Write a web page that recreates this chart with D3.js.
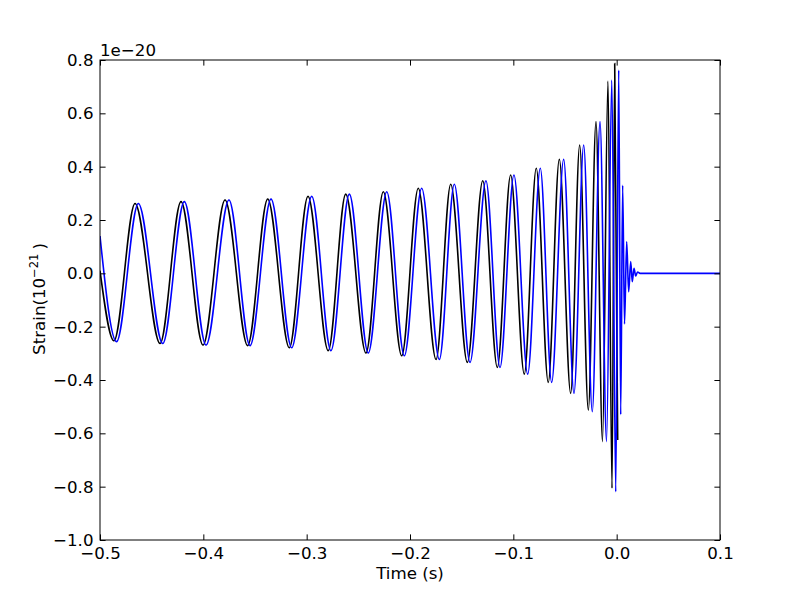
<!DOCTYPE html>
<html>
<head>
<meta charset="utf-8">
<script src="https://cdn.jsdelivr.net/npm/d3@7"></script>
<style>
  html, body { margin: 0; padding: 0; background: #fff; }
  text { font-family: "DejaVu Sans", sans-serif; }
</style>
</head>
<body>
<svg id="chart" width="800" height="600"></svg>
<script>
// Extrema: time (s) and strain (units of 1e-20)
const blackT = [-0.5, -0.4865, -0.4661, -0.4419, -0.4216, -0.4003, -0.3790, -0.3571, -0.3377, -0.3168,
  -0.2987, -0.2791, -0.2622, -0.2426, -0.2258, -0.2080, -0.1920, -0.1748, -0.1606, -0.1445,
  -0.1296, -0.1155, -0.1026, -0.0894, -0.0778, -0.0662, -0.0555, -0.0445, -0.0358, -0.0274,
  -0.0200, -0.0137, -0.0084, -0.0045, -0.0019, 0.0010];
const blackV = [0.01, -0.253, 0.262, -0.263, 0.269, -0.269, 0.275, -0.271, 0.279, -0.279,
  0.289, -0.290, 0.297, -0.299, 0.306, -0.309, 0.319, -0.323, 0.334, -0.334,
  0.347, -0.353, 0.369, -0.378, 0.394, -0.409, 0.428, -0.450, 0.481, -0.513,
  0.569, -0.631, 0.721, -0.806, 0.787, -0.625];

const blueT = [-0.5, -0.4840, -0.4629, -0.4393, -0.4184, -0.3974, -0.3752, -0.3548, -0.3345, -0.3145,
  -0.2951, -0.2765, -0.2587, -0.2404, -0.2225, -0.2055, -0.1887, -0.1716, -0.1571, -0.1419,
  -0.1265, -0.1129, -0.0994, -0.0861, -0.0739, -0.0629, -0.0513, -0.0413, -0.0319, -0.0236,
  -0.0161, -0.0098, -0.0047, -0.0009, 0.0020, 0.0039, 0.0058, 0.0076, 0.0097, 0.0116,
  0.0136, 0.0151, 0.0168, 0.0184, 0.0202, 0.0226, 0.1];
const blueV = [0.14, -0.256, 0.262, -0.263, 0.269, -0.269, 0.275, -0.271, 0.279, -0.279,
  0.289, -0.290, 0.297, -0.299, 0.306, -0.309, 0.319, -0.323, 0.334, -0.334,
  0.347, -0.353, 0.369, -0.378, 0.394, -0.409, 0.428, -0.450, 0.481, -0.519,
  0.569, -0.631, 0.725, -0.819, 0.762, -0.530, 0.330, -0.190, 0.119, -0.069,
  0.044, -0.031, 0.019, -0.010, 0.005, 0.0, 0.0];

const xTicks = [-0.5, -0.4, -0.3, -0.2, -0.1, 0.0, 0.1];
const yTicks = [-1.0, -0.8, -0.6, -0.4, -0.2, 0.0, 0.2, 0.4, 0.6, 0.8];
const xLabel = "Time (s)";
const offsetLabel = "1e\u221220";

const W = 800, H = 600;
const m = { left: 100, right: 80, top: 60, bottom: 60 };
const svg = d3.select("#chart");
const x = d3.scaleLinear().domain([-0.5, 0.1]).range([m.left, W - m.right]);
const y = d3.scaleLinear().domain([-1.0, 0.8]).range([H - m.bottom, m.top]);
const fmt = d3.format(".1f");
const fs = "16.67px";
const tickLen = 5.6;

const plot = svg.append("g");
plot.append("defs").append("clipPath").attr("id", "clip")
  .append("rect").attr("x", m.left).attr("y", m.top)
  .attr("width", W - m.left - m.right).attr("height", H - m.top - m.bottom);

const line = d3.line().x(d => x(d[0])).y(d => y(d[1])).curve(d3.curveMonotoneX);
const black = blackT.map((t, i) => [t, blackV[i]]);
const blue = blueT.map((t, i) => [t, blueV[i]]);

const g = plot.append("g").attr("clip-path", "url(#clip)");
g.append("path").attr("d", line(black)).attr("fill", "none").attr("stroke", "#000").attr("stroke-width", 1.6);
g.append("path").attr("d", line(blue)).attr("fill", "none").attr("stroke", "#0000ff").attr("stroke-width", 1.6);

// Axes: inward ticks on all four sides
const axB = d3.axisBottom(x).tickValues(xTicks).tickFormat(fmt).tickSizeInner(-tickLen).tickSizeOuter(0).tickPadding(tickLen + 1);
const axT = d3.axisTop(x).tickValues(xTicks).tickFormat("").tickSizeInner(-tickLen).tickSizeOuter(0);
const axL = d3.axisLeft(y).tickValues(yTicks).tickFormat(fmt).tickSizeInner(-tickLen).tickSizeOuter(0).tickPadding(tickLen + 1);
const axR = d3.axisRight(y).tickValues(yTicks).tickFormat("").tickSizeInner(-tickLen).tickSizeOuter(0);

function style(sel) {
  sel.select(".domain").remove();
  sel.selectAll(".tick line").attr("stroke", "#000").attr("stroke-width", 1);
  sel.selectAll(".tick text").attr("fill", "#000").style("font-size", fs).style("font-family", "DejaVu Sans");
}
const gb = svg.append("g").attr("transform", `translate(0,${H - m.bottom})`).call(axB); style(gb);
gb.selectAll(".tick text").attr("y", 0).attr("dy", 0).attr("transform", "translate(0,19)");
const gt = svg.append("g").attr("transform", `translate(0,${m.top})`).call(axT); style(gt);
const gl = svg.append("g").attr("transform", `translate(${m.left},0)`).call(axL); style(gl);
gl.selectAll(".tick text").attr("x", -6.5).attr("dy", "0.33em");
const gr = svg.append("g").attr("transform", `translate(${W - m.right},0)`).call(axR); style(gr);

svg.append("rect").attr("x", m.left).attr("y", m.top)
  .attr("width", W - m.left - m.right).attr("height", H - m.top - m.bottom)
  .attr("fill", "none").attr("stroke", "#000").attr("stroke-width", 1);

svg.append("text").attr("x", (m.left + W - m.right) / 2).attr("y", 578.5)
  .attr("text-anchor", "middle").style("font-size", fs).text(xLabel);

svg.append("text").attr("x", m.left).attr("y", 56)
  .attr("text-anchor", "start").style("font-size", fs).text(offsetLabel);

const yl = svg.append("text").attr("transform", "translate(45,299) rotate(-90)")
  .attr("text-anchor", "middle").style("font-size", fs);
yl.append("tspan").text("Strain(10");
yl.append("tspan").attr("dy", -7).style("font-size", "11.5px").text("\u221221");
yl.append("tspan").attr("dy", 7).attr("dx", 4).text(")");
</script>
</body>
</html>
